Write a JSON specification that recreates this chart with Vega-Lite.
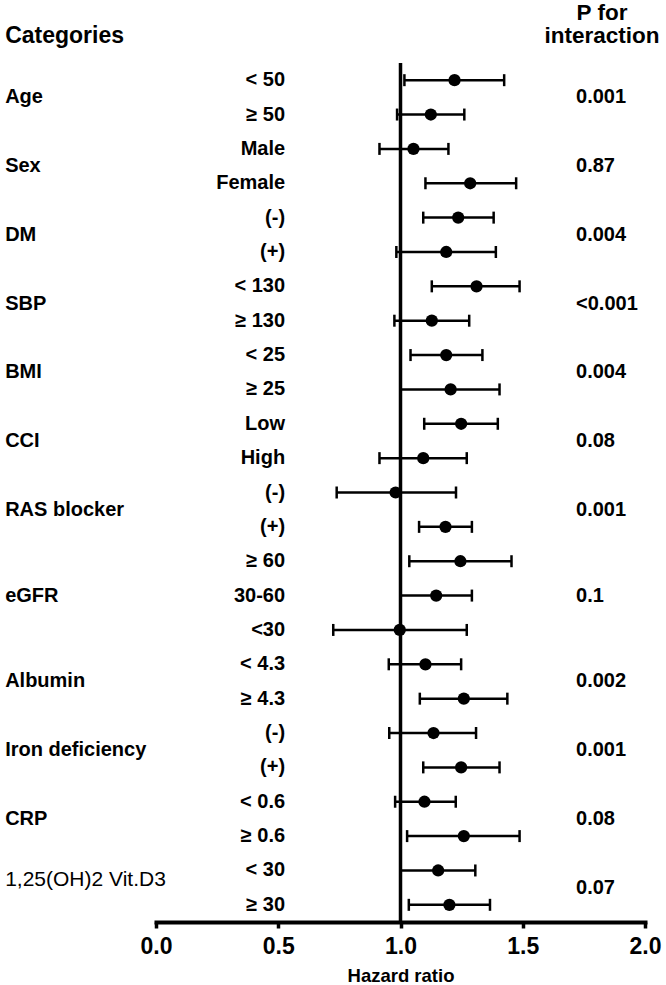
{
  "$schema": "https://vega.github.io/schema/vega-lite/v6.json",
  "width": 489,
  "height": 859,
  "autosize": {"type": "none"},
  "padding": {"left": 156, "top": 63, "right": 21, "bottom": 63},
  "background": "white",
  "config": {
    "view": {"stroke": null},
    "font": "Liberation Sans",
    "text": {"font": "Liberation Sans", "color": "black"},
    "axisX": {
      "grid": false,
      "domainColor": "black",
      "domainWidth": 4,
      "domainCap": "square",
      "tickColor": "black",
      "tickWidth": 3.5,
      "tickSize": 6,
      "labelFont": "Liberation Sans",
      "labelFontSize": 23,
      "labelFontWeight": "bold",
      "labelColor": "black",
      "labelPadding": 7,
      "labelFlush": false,
      "titleFont": "Liberation Sans",
      "titleFontSize": 18.5,
      "titleFontWeight": "bold",
      "titleColor": "black",
      "titlePadding": 8
    }
  },
  "data": {
    "values": [
      {"row": 1, "cat": "Age", "sub": "< 50", "hr": 1.221, "lo": 1.016, "hi": 1.424, "p": "0.001"},
      {"row": 2, "cat": "Age", "sub": "≥ 50", "hr": 1.124, "lo": 0.986, "hi": 1.261, "p": "0.001"},
      {"row": 3, "cat": "Sex", "sub": "Male", "hr": 1.053, "lo": 0.914, "hi": 1.196, "p": "0.87"},
      {"row": 4, "cat": "Sex", "sub": "Female", "hr": 1.285, "lo": 1.102, "hi": 1.473, "p": "0.87"},
      {"row": 5, "cat": "DM", "sub": "(-)", "hr": 1.236, "lo": 1.093, "hi": 1.381, "p": "0.004"},
      {"row": 6, "cat": "DM", "sub": "(+)", "hr": 1.187, "lo": 0.983, "hi": 1.39, "p": "0.004"},
      {"row": 7, "cat": "SBP", "sub": "< 130", "hr": 1.311, "lo": 1.128, "hi": 1.487, "p": "<0.001"},
      {"row": 8, "cat": "SBP", "sub": "≥ 130", "hr": 1.128, "lo": 0.975, "hi": 1.281, "p": "<0.001"},
      {"row": 9, "cat": "BMI", "sub": "< 25", "hr": 1.187, "lo": 1.041, "hi": 1.335, "p": "0.004"},
      {"row": 10, "cat": "BMI", "sub": "≥ 25", "hr": 1.205, "lo": 1.0, "hi": 1.405, "p": "0.004"},
      {"row": 11, "cat": "CCI", "sub": "Low", "hr": 1.248, "lo": 1.097, "hi": 1.398, "p": "0.08"},
      {"row": 12, "cat": "CCI", "sub": "High", "hr": 1.093, "lo": 0.914, "hi": 1.271, "p": "0.08"},
      {"row": 13, "cat": "RAS blocker", "sub": "(-)", "hr": 0.98, "lo": 0.739, "hi": 1.227, "p": "0.001"},
      {"row": 14, "cat": "RAS blocker", "sub": "(+)", "hr": 1.184, "lo": 1.076, "hi": 1.292, "p": "0.001"},
      {"row": 15, "cat": "eGFR", "sub": "≥ 60", "hr": 1.245, "lo": 1.036, "hi": 1.454, "p": "0.1"},
      {"row": 16, "cat": "eGFR", "sub": "30-60", "hr": 1.146, "lo": 1.0, "hi": 1.292, "p": "0.1"},
      {"row": 17, "cat": "eGFR", "sub": "<30", "hr": 0.997, "lo": 0.725, "hi": 1.271, "p": "0.1"},
      {"row": 18, "cat": "Albumin", "sub": "< 4.3", "hr": 1.102, "lo": 0.952, "hi": 1.248, "p": "0.002"},
      {"row": 19, "cat": "Albumin", "sub": "≥ 4.3", "hr": 1.259, "lo": 1.079, "hi": 1.437, "p": "0.002"},
      {"row": 20, "cat": "Iron deficiency", "sub": "(-)", "hr": 1.135, "lo": 0.954, "hi": 1.309, "p": "0.001"},
      {"row": 21, "cat": "Iron deficiency", "sub": "(+)", "hr": 1.248, "lo": 1.093, "hi": 1.405, "p": "0.001"},
      {"row": 22, "cat": "CRP", "sub": "< 0.6", "hr": 1.098, "lo": 0.978, "hi": 1.226, "p": "0.08"},
      {"row": 23, "cat": "CRP", "sub": "≥ 0.6", "hr": 1.259, "lo": 1.027, "hi": 1.487, "p": "0.08"},
      {"row": 24, "cat": "1,25(OH)2 Vit.D3", "sub": "< 30", "hr": 1.154, "lo": 1.0, "hi": 1.306, "p": "0.07"},
      {"row": 25, "cat": "1,25(OH)2 Vit.D3", "sub": "≥ 30", "hr": 1.2, "lo": 1.034, "hi": 1.366, "p": "0.07"}
    ]
  },
  "layer": [
    {
      "data": {"values": [{}]},
      "mark": {"type": "rule", "color": "black", "strokeWidth": 3.5},
      "encoding": {
        "x": {"datum": 1, "type": "quantitative", "scale": {"domain": [0, 2]}, "title": "Hazard ratio", "axis": {"values": [0, 0.5, 1, 1.5, 2], "format": ".1f"}}
      }
    },
    {
      "mark": {"type": "rule", "color": "black", "strokeWidth": 2.5},
      "encoding": {
        "x": {"field": "lo", "type": "quantitative", "scale": {"domain": [0, 2]}, "title": "Hazard ratio", "axis": {"values": [0, 0.5, 1, 1.5, 2], "format": ".1f"}},
        "x2": {"field": "hi"},
        "y": {"field": "row", "type": "quantitative", "scale": {"domain": [0.5, 25.5], "reverse": true}, "axis": null}
      }
    },
    {
      "mark": {"type": "tick", "orient": "vertical", "color": "black", "size": 12, "thickness": 2.5, "opacity": 1},
      "encoding": {
        "x": {"field": "lo", "type": "quantitative", "scale": {"domain": [0, 2]}, "title": "Hazard ratio", "axis": {"values": [0, 0.5, 1, 1.5, 2], "format": ".1f"}},
        "y": {"field": "row", "type": "quantitative", "scale": {"domain": [0.5, 25.5], "reverse": true}, "axis": null}
      }
    },
    {
      "mark": {"type": "tick", "orient": "vertical", "color": "black", "size": 12, "thickness": 2.5, "opacity": 1},
      "encoding": {
        "x": {"field": "hi", "type": "quantitative", "scale": {"domain": [0, 2]}, "title": "Hazard ratio", "axis": {"values": [0, 0.5, 1, 1.5, 2], "format": ".1f"}},
        "y": {"field": "row", "type": "quantitative", "scale": {"domain": [0.5, 25.5], "reverse": true}, "axis": null}
      }
    },
    {
      "mark": {"type": "point", "shape": "circle", "filled": true, "color": "black", "size": 150, "opacity": 1},
      "encoding": {
        "x": {"field": "hr", "type": "quantitative", "scale": {"domain": [0, 2]}, "title": "Hazard ratio", "axis": {"values": [0, 0.5, 1, 1.5, 2], "format": ".1f"}},
        "y": {"field": "row", "type": "quantitative", "scale": {"domain": [0.5, 25.5], "reverse": true}, "axis": null}
      }
    },
    {
      "mark": {"type": "text", "align": "right", "baseline": "middle", "fontSize": 20, "fontWeight": "bold"},
      "encoding": {
        "x": {"datum": 0.528, "type": "quantitative", "scale": {"domain": [0, 2]}, "title": "Hazard ratio", "axis": {"values": [0, 0.5, 1, 1.5, 2], "format": ".1f"}},
        "y": {"field": "row", "type": "quantitative", "scale": {"domain": [0.5, 25.5], "reverse": true}, "axis": null},
        "text": {"field": "sub"}
      }
    },
    {
      "transform": [
        {"aggregate": [{"op": "mean", "field": "row", "as": "mid"}], "groupby": ["cat", "p"]},
        {"filter": "datum.cat !== '1,25(OH)2 Vit.D3'"}
      ],
      "mark": {"type": "text", "align": "left", "baseline": "middle", "fontSize": 20, "fontWeight": "bold"},
      "encoding": {
        "x": {"datum": -0.617, "type": "quantitative", "scale": {"domain": [0, 2]}, "title": "Hazard ratio", "axis": {"values": [0, 0.5, 1, 1.5, 2], "format": ".1f"}},
        "y": {"field": "mid", "type": "quantitative", "scale": {"domain": [0.5, 25.5], "reverse": true}, "axis": null},
        "text": {"field": "cat"}
      }
    },
    {
      "transform": [
        {"aggregate": [{"op": "mean", "field": "row", "as": "mid"}], "groupby": ["cat", "p"]},
        {"filter": "datum.cat === '1,25(OH)2 Vit.D3'"}
      ],
      "mark": {"type": "text", "align": "left", "baseline": "middle", "fontSize": 21, "fontWeight": "normal", "dy": -8},
      "encoding": {
        "x": {"datum": -0.617, "type": "quantitative", "scale": {"domain": [0, 2]}, "title": "Hazard ratio", "axis": {"values": [0, 0.5, 1, 1.5, 2], "format": ".1f"}},
        "y": {"field": "mid", "type": "quantitative", "scale": {"domain": [0.5, 25.5], "reverse": true}, "axis": null},
        "text": {"field": "cat"}
      }
    },
    {
      "transform": [
        {"aggregate": [{"op": "mean", "field": "row", "as": "mid"}], "groupby": ["cat", "p"]}
      ],
      "mark": {"type": "text", "align": "left", "baseline": "middle", "fontSize": 20, "fontWeight": "bold"},
      "encoding": {
        "x": {"datum": 1.718, "type": "quantitative", "scale": {"domain": [0, 2]}, "title": "Hazard ratio", "axis": {"values": [0, 0.5, 1, 1.5, 2], "format": ".1f"}},
        "y": {"field": "mid", "type": "quantitative", "scale": {"domain": [0.5, 25.5], "reverse": true}, "axis": null},
        "text": {"field": "p"}
      }
    },
    {
      "data": {"values": [{"t": "Categories"}]},
      "mark": {"type": "text", "align": "left", "baseline": "alphabetic", "fontSize": 23, "fontWeight": "bold"},
      "encoding": {
        "x": {"datum": -0.617, "type": "quantitative", "scale": {"domain": [0, 2]}, "title": "Hazard ratio", "axis": {"values": [0, 0.5, 1, 1.5, 2], "format": ".1f"}},
        "y": {"datum": -0.082, "type": "quantitative", "scale": {"domain": [0.5, 25.5], "reverse": true}, "axis": null},
        "text": {"field": "t"}
      }
    },
    {
      "data": {"values": [{"t": "P for"}]},
      "mark": {"type": "text", "align": "center", "baseline": "alphabetic", "fontSize": 22.5, "fontWeight": "bold"},
      "encoding": {
        "x": {"datum": 1.824, "type": "quantitative", "scale": {"domain": [0, 2]}, "title": "Hazard ratio", "axis": {"values": [0, 0.5, 1, 1.5, 2], "format": ".1f"}},
        "y": {"datum": -0.745, "type": "quantitative", "scale": {"domain": [0.5, 25.5], "reverse": true}, "axis": null},
        "text": {"field": "t"}
      }
    },
    {
      "data": {"values": [{"t": "interaction"}]},
      "mark": {"type": "text", "align": "center", "baseline": "alphabetic", "fontSize": 22.5, "fontWeight": "bold"},
      "encoding": {
        "x": {"datum": 1.824, "type": "quantitative", "scale": {"domain": [0, 2]}, "title": "Hazard ratio", "axis": {"values": [0, 0.5, 1, 1.5, 2], "format": ".1f"}},
        "y": {"datum": -0.082, "type": "quantitative", "scale": {"domain": [0.5, 25.5], "reverse": true}, "axis": null},
        "text": {"field": "t"}
      }
    }
  ]
}
